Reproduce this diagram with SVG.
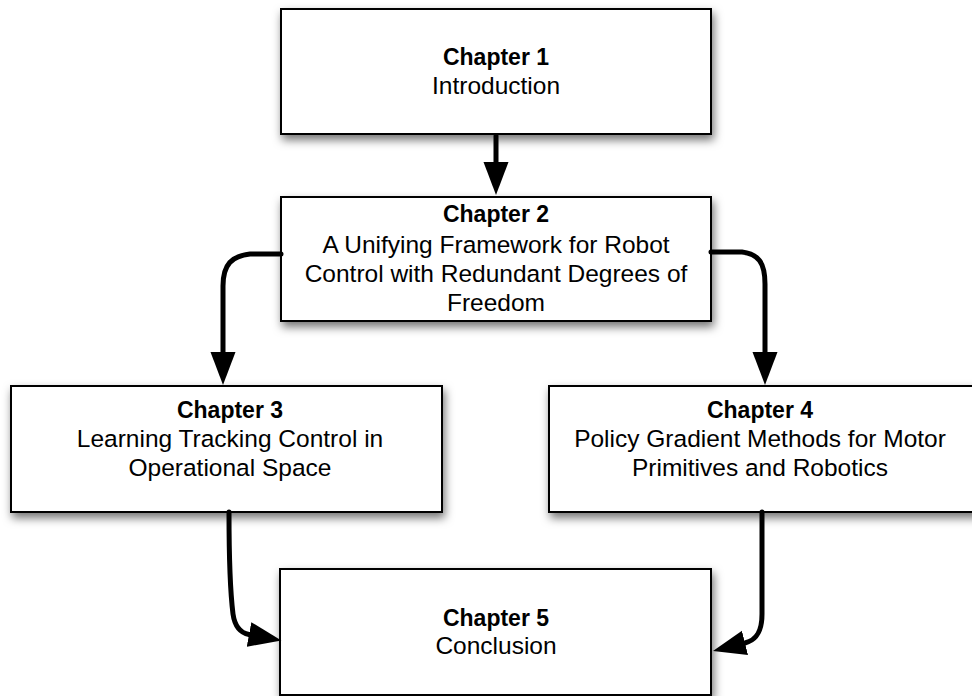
<svg xmlns="http://www.w3.org/2000/svg" width="972" height="696" viewBox="0 0 972 696">
<defs>
<filter id="sh" x="-10%" y="-20%" width="120%" height="150%">
<feDropShadow dx="2" dy="5" stdDeviation="5" flood-color="#000" flood-opacity="0.55"/>
</filter>
<marker id="ah" markerUnits="userSpaceOnUse" markerWidth="34" markerHeight="26" refX="0" refY="12.5" orient="auto">
<path d="M0,0 L33,12.5 L0,25 Z" fill="#000"/>
</marker>
<style>
.box{fill:#fff;stroke:#000;stroke-width:2;filter:url(#sh)}
.t{font-family:"Liberation Sans",Arial,Helvetica,sans-serif;font-size:24.5px;fill:#000;text-anchor:middle}
.b{font-weight:bold;font-size:23px}
.c{fill:none;stroke:#000;stroke-width:5;stroke-linecap:round;marker-end:url(#ah)}
</style>
</defs>
<rect width="972" height="696" fill="#fff"/>
<g id="ch1">
<rect class="box" x="281" y="9" width="430" height="125"/>
<text class="t b" x="496" y="65">Chapter 1</text>
<text class="t" x="496" y="94">Introduction</text>
</g>
<g id="ch2">
<rect class="box" x="281" y="197" width="430" height="124"/>
<text class="t b" x="496" y="222">Chapter 2</text>
<text class="t" x="496" y="253">A Unifying Framework for Robot</text>
<text class="t" x="496" y="282">Control with Redundant Degrees of</text>
<text class="t" x="496" y="311">Freedom</text>
</g>
<g id="ch3">
<rect class="box" x="11" y="386" width="431" height="126"/>
<text class="t b" x="230" y="418">Chapter 3</text>
<text class="t" x="230" y="447">Learning Tracking Control in</text>
<text class="t" x="230" y="476">Operational Space</text>
</g>
<g id="ch4">
<rect class="box" x="549" y="386" width="431" height="126"/>
<text class="t b" x="760" y="418">Chapter 4</text>
<text class="t" x="760" y="447">Policy Gradient Methods for Motor</text>
<text class="t" x="760" y="476">Primitives and Robotics</text>
</g>
<g id="ch5">
<rect class="box" x="280" y="569" width="431" height="126"/>
<text class="t b" x="496" y="626">Chapter 5</text>
<text class="t" x="496" y="654">Conclusion</text>
</g>
<g id="connectors">
<path class="c" d="M496,136 L496,162"/>
<path class="c" d="M281,254 L250,254 C232,256 223,264 223,286 L223,352"/>
<path class="c" d="M711,252 L742,252 C758,254 765,262 765,284 L765,352"/>
<path class="c" d="M229,512 C229,560 231,598 233,614 C235,628 241,633 249,634.5"/>
<path class="c" d="M762,512 L762,614 C762,631 757,640 745,643"/>
</g>
</svg>
